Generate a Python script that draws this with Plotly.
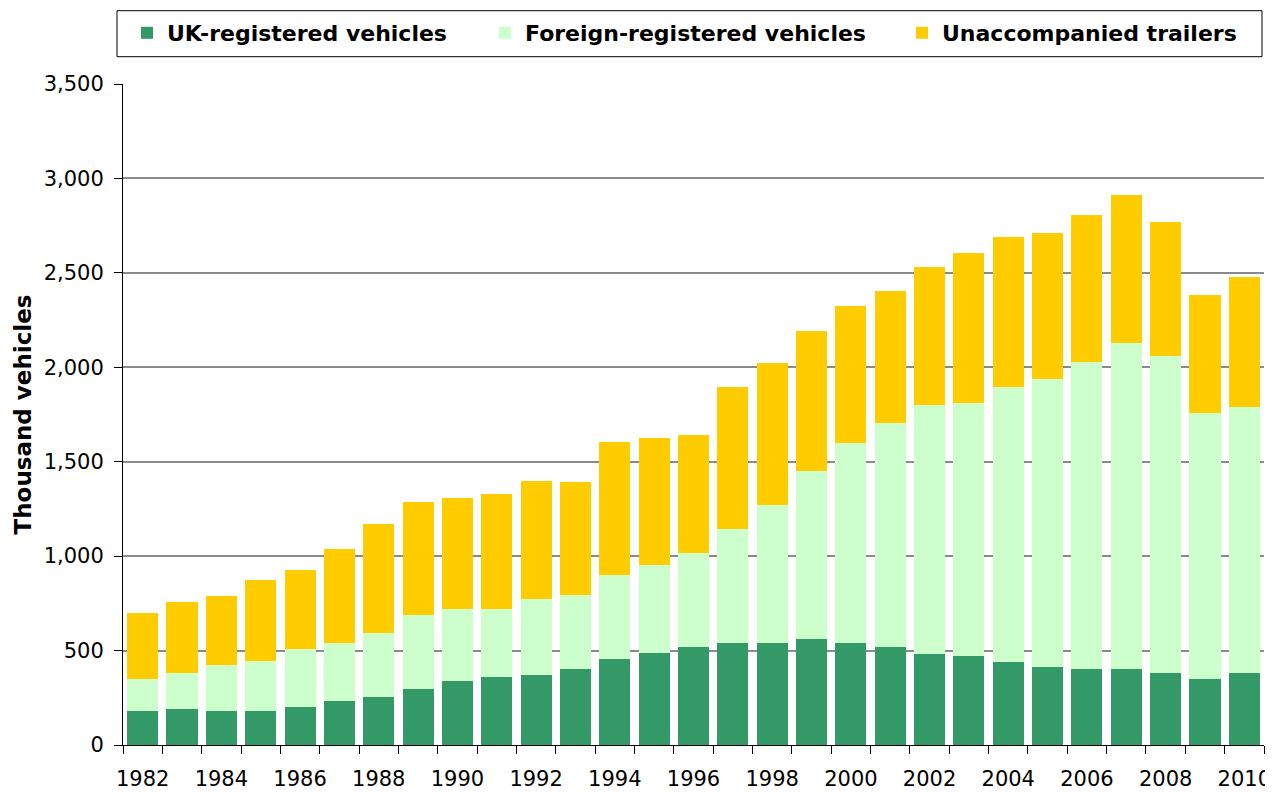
import plotly.graph_objects as go

years = list(range(1982, 2011))
uk_registered = [180, 189, 180, 180, 202, 234, 255, 297, 340, 361, 371, 403, 456, 488, 520,
                 541, 541, 563, 541, 520, 483, 473, 442, 411, 402, 402, 379, 349, 379]
foreign_registered = [169, 191, 245, 264, 306, 306, 338, 391, 380, 359, 402, 391, 444, 466, 498,
                      604, 731, 890, 1060, 1187, 1319, 1340, 1456, 1528, 1624, 1728, 1679, 1410, 1413]
unaccompanied = [350, 377, 364, 430, 419, 499, 578, 600, 589, 610, 626, 600, 706, 674, 626,
                 748, 749, 741, 721, 695, 728, 790, 790, 772, 780, 782, 711, 622, 684]
series_names = ["UK-registered vehicles", "Foreign-registered vehicles", "Unaccompanied trailers"]
series_colors = ["#339966", "#CCFFCC", "#FFCC00"]
y_ticks = [0, 500, 1000, 1500, 2000, 2500, 3000, 3500]
label_years = years[::2]

FONT = "DejaVu Sans"

fig = go.Figure()
legend_ids = ["legend", "legend2", "legend3"]
for vals, name, col, lg in zip([uk_registered, foreign_registered, unaccompanied],
                               series_names, series_colors, legend_ids):
    fig.add_trace(go.Bar(x=years, y=vals, name=name, marker=dict(color=col, line=dict(width=0)),
                         legend=lg))

# the page body adds an 8px offset; size the figure so it fits the 1273x792 window
OFF = 8
W, H = 1273 - OFF, 792 - OFF
plot_left, plot_right, plot_top, plot_bottom = 123, 1264, 84, 745   # window pixels
ml = plot_left - OFF
mr = OFF + W - plot_right
mt = plot_top - OFF
mb = OFF + H - plot_bottom
pw, ph = plot_right - plot_left, plot_bottom - plot_top

def px_x(x):
    return (x - plot_left) / pw

def px_y(y):
    return (plot_bottom - y) / ph

leg_common = dict(orientation="h", bgcolor="rgba(0,0,0,0)", borderwidth=0,
                  font=dict(family=FONT, size=22, color="black", weight="bold"),
                  xanchor="left", yanchor="middle", y=px_y(33))

fig.update_layout(
    width=W, height=H,
    margin=dict(l=ml, r=mr, t=mt, b=mb, autoexpand=False),
    paper_bgcolor="white", plot_bgcolor="white",
    barmode="stack", bargap=0.21,
    font=dict(family=FONT, size=21, color="black"),
    showlegend=True,
    legend=dict(**leg_common, x=px_x(167 - 40)),
    legend2=dict(**leg_common, x=px_x(525 - 40)),
    legend3=dict(**leg_common, x=px_x(942 - 40)),
    shapes=[dict(type="rect", xref="paper", yref="paper",
                 x0=px_x(117), x1=px_x(1262), y0=px_y(56.7), y1=px_y(10.7),
                 line=dict(color="black", width=1), fillcolor="rgba(0,0,0,0)", layer="below")],
    xaxis=dict(
        range=[years[0] - 0.5, years[-1] + 0.5],
        tickmode="array", tickvals=label_years, ticktext=[str(y) for y in label_years],
        ticks="", showgrid=False, zeroline=False,
        showline=True, linecolor="black", linewidth=1,
        tickfont=dict(family=FONT, size=21, color="black"),
        ticklabelstandoff=15,
        minor=dict(ticks="outside", ticklen=8, tickcolor="black", tickwidth=1,
                   tickmode="linear", tick0=years[0] - 0.5, dtick=1, showgrid=False),
    ),
    yaxis=dict(
        range=[0, 3500], tickmode="array", tickvals=y_ticks,
        tickformat=",", ticks="outside", ticklen=8, tickcolor="black",
        showline=True, linecolor="black", linewidth=1,
        showgrid=True, gridcolor="#8a8a8a", gridwidth=2, zeroline=False,
        tickfont=dict(family=FONT, size=21, color="black"),
        ticklabelstandoff=6,
        title=dict(text="Thousand vehicles", standoff=5,
                   font=dict(family=FONT, size=23, color="black", weight="bold")),
    ),
)

fig.write_html("out.html")
